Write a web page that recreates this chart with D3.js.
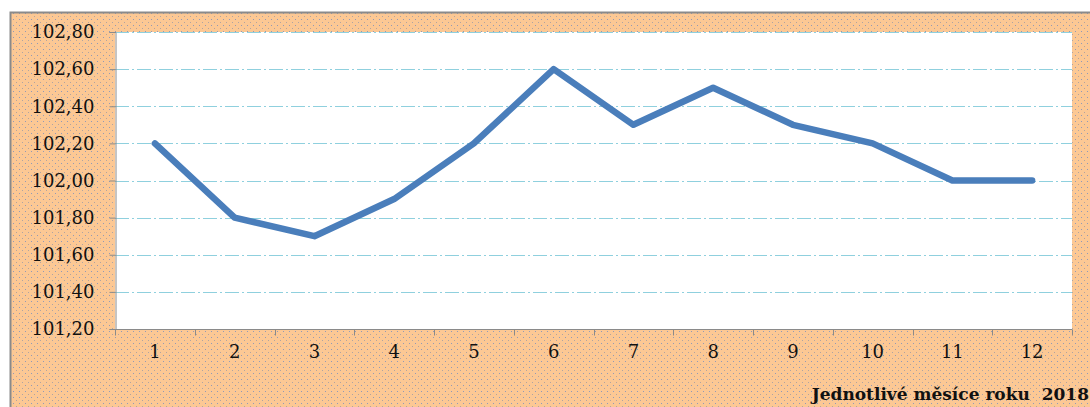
<!DOCTYPE html>
<html>
<head>
<meta charset="utf-8">
<script src="https://cdn.jsdelivr.net/npm/d3@7"></script>
<style>
  html, body { margin: 0; padding: 0; background: #fff; }
  svg { display: block; }
  svg text { font-family: "DejaVu Serif", "Liberation Serif", serif; fill: #111; }
</style>
</head>
<body>
<div id="chart"></div>
<script>
(function () {
  "use strict";

  var months = ["1", "2", "3", "4", "5", "6", "7", "8", "9", "10", "11", "12"];
  var values = [102.2, 101.8, 101.7, 101.9, 102.2, 102.6, 102.3, 102.5, 102.3, 102.2, 102.0, 102.0];
  var yTicks = [101.2, 101.4, 101.6, 101.8, 102.0, 102.2, 102.4, 102.6, 102.8];
  var xTitle = "Jednotlivé měsíce roku  2018";

  var width = 1090, height = 407;
  var plot = { left: 115, right: 1072, top: 32, bottom: 329 };

  var svg = d3.select("#chart").append("svg")
    .attr("width", width)
    .attr("height", height);

  // dotted orange fill like the original chart area
  var defs = svg.append("defs");
  var pat = defs.append("pattern")
    .attr("id", "dots")
    .attr("patternUnits", "userSpaceOnUse")
    .attr("width", 6)
    .attr("height", 6);
  pat.append("rect").attr("width", 6).attr("height", 6).attr("fill", "#fcc894");
  pat.append("rect").attr("x", 1).attr("y", 1).attr("width", 1).attr("height", 1).attr("fill", "#9099b8");
  pat.append("rect").attr("x", 4).attr("y", 4).attr("width", 1).attr("height", 1).attr("fill", "#b0a4a0");

  svg.append("rect")
    .attr("x", 10).attr("y", 12)
    .attr("width", width - 10).attr("height", height - 12)
    .attr("fill", "url(#dots)");
  svg.append("path")
    .attr("d", "M10.5," + height + "V12.5H" + width)
    .attr("fill", "none")
    .attr("stroke", "#8a8a8a")
    .attr("stroke-width", 2);

  var x = d3.scaleBand().domain(months).range([plot.left, plot.right]);
  var y = d3.scaleLinear().domain([101.2, 102.8]).range([plot.bottom, plot.top]);

  svg.append("rect")
    .attr("x", plot.left).attr("y", plot.top)
    .attr("width", plot.right - plot.left).attr("height", plot.bottom - plot.top)
    .attr("fill", "#fff");

  // gridlines
  svg.append("g")
    .selectAll("line")
    .data(yTicks.slice(1))
    .join("line")
    .attr("x1", plot.left).attr("x2", plot.right)
    .attr("y1", function (d) { return Math.round(y(d)) + 0.5; })
    .attr("y2", function (d) { return Math.round(y(d)) + 0.5; })
    .attr("stroke", "#8fd0de")
    .attr("stroke-width", 1)
    .attr("stroke-dasharray", "14,3,2,3");

  var fmt = function (d) { return d.toFixed(2).replace(".", ","); };

  var yAxis = svg.append("g")
    .attr("transform", "translate(" + (plot.left + 0.5) + ",0)")
    .attr("font-family", null)
    .call(d3.axisLeft(y).tickValues(yTicks).tickFormat(fmt).tickSize(6).tickPadding(15));
  yAxis.select(".domain").attr("stroke", "#8a8a8a");
  yAxis.selectAll(".tick line").attr("stroke", "#8a8a8a");
  yAxis.selectAll("text")
    .style("font-family", "'DejaVu Serif', serif")
    .style("font-size", "18px")
    .attr("fill", "#111");

  var boundaries = months.map(function (m) { return x(m); }).concat([plot.right]);
  var xAxis = svg.append("g").attr("transform", "translate(0," + (plot.bottom + 0.5) + ")");
  xAxis.append("line")
    .attr("x1", plot.left).attr("x2", plot.right)
    .attr("stroke", "#8a8a8a");
  xAxis.selectAll("line.tick")
    .data(boundaries)
    .join("line")
    .attr("class", "tick")
    .attr("x1", function (d) { return Math.round(d) + 0.5; })
    .attr("x2", function (d) { return Math.round(d) + 0.5; })
    .attr("y1", 0).attr("y2", 6)
    .attr("stroke", "#8a8a8a");
  xAxis.selectAll("text")
    .data(months)
    .join("text")
    .attr("x", function (d) { return x(d) + x.bandwidth() / 2; })
    .attr("y", 28)
    .attr("text-anchor", "middle")
    .style("font-size", "18px")
    .text(function (d) { return d; });

  var line = d3.line()
    .x(function (d, i) { return x(months[i]) + x.bandwidth() / 2; })
    .y(function (d) { return y(d); });

  svg.append("path")
    .datum(values)
    .attr("d", line)
    .attr("fill", "none")
    .attr("stroke", "#4a7ebb")
    .attr("stroke-width", 6.5)
    .attr("stroke-linejoin", "round")
    .attr("stroke-linecap", "round");

  svg.append("text")
    .attr("x", 1089)
    .attr("y", 400)
    .attr("text-anchor", "end")
    .style("font-size", "17px")
    .style("font-weight", "bold")
    .style("white-space", "pre")
    .text(xTitle);
})();
</script>
</body>
</html>
